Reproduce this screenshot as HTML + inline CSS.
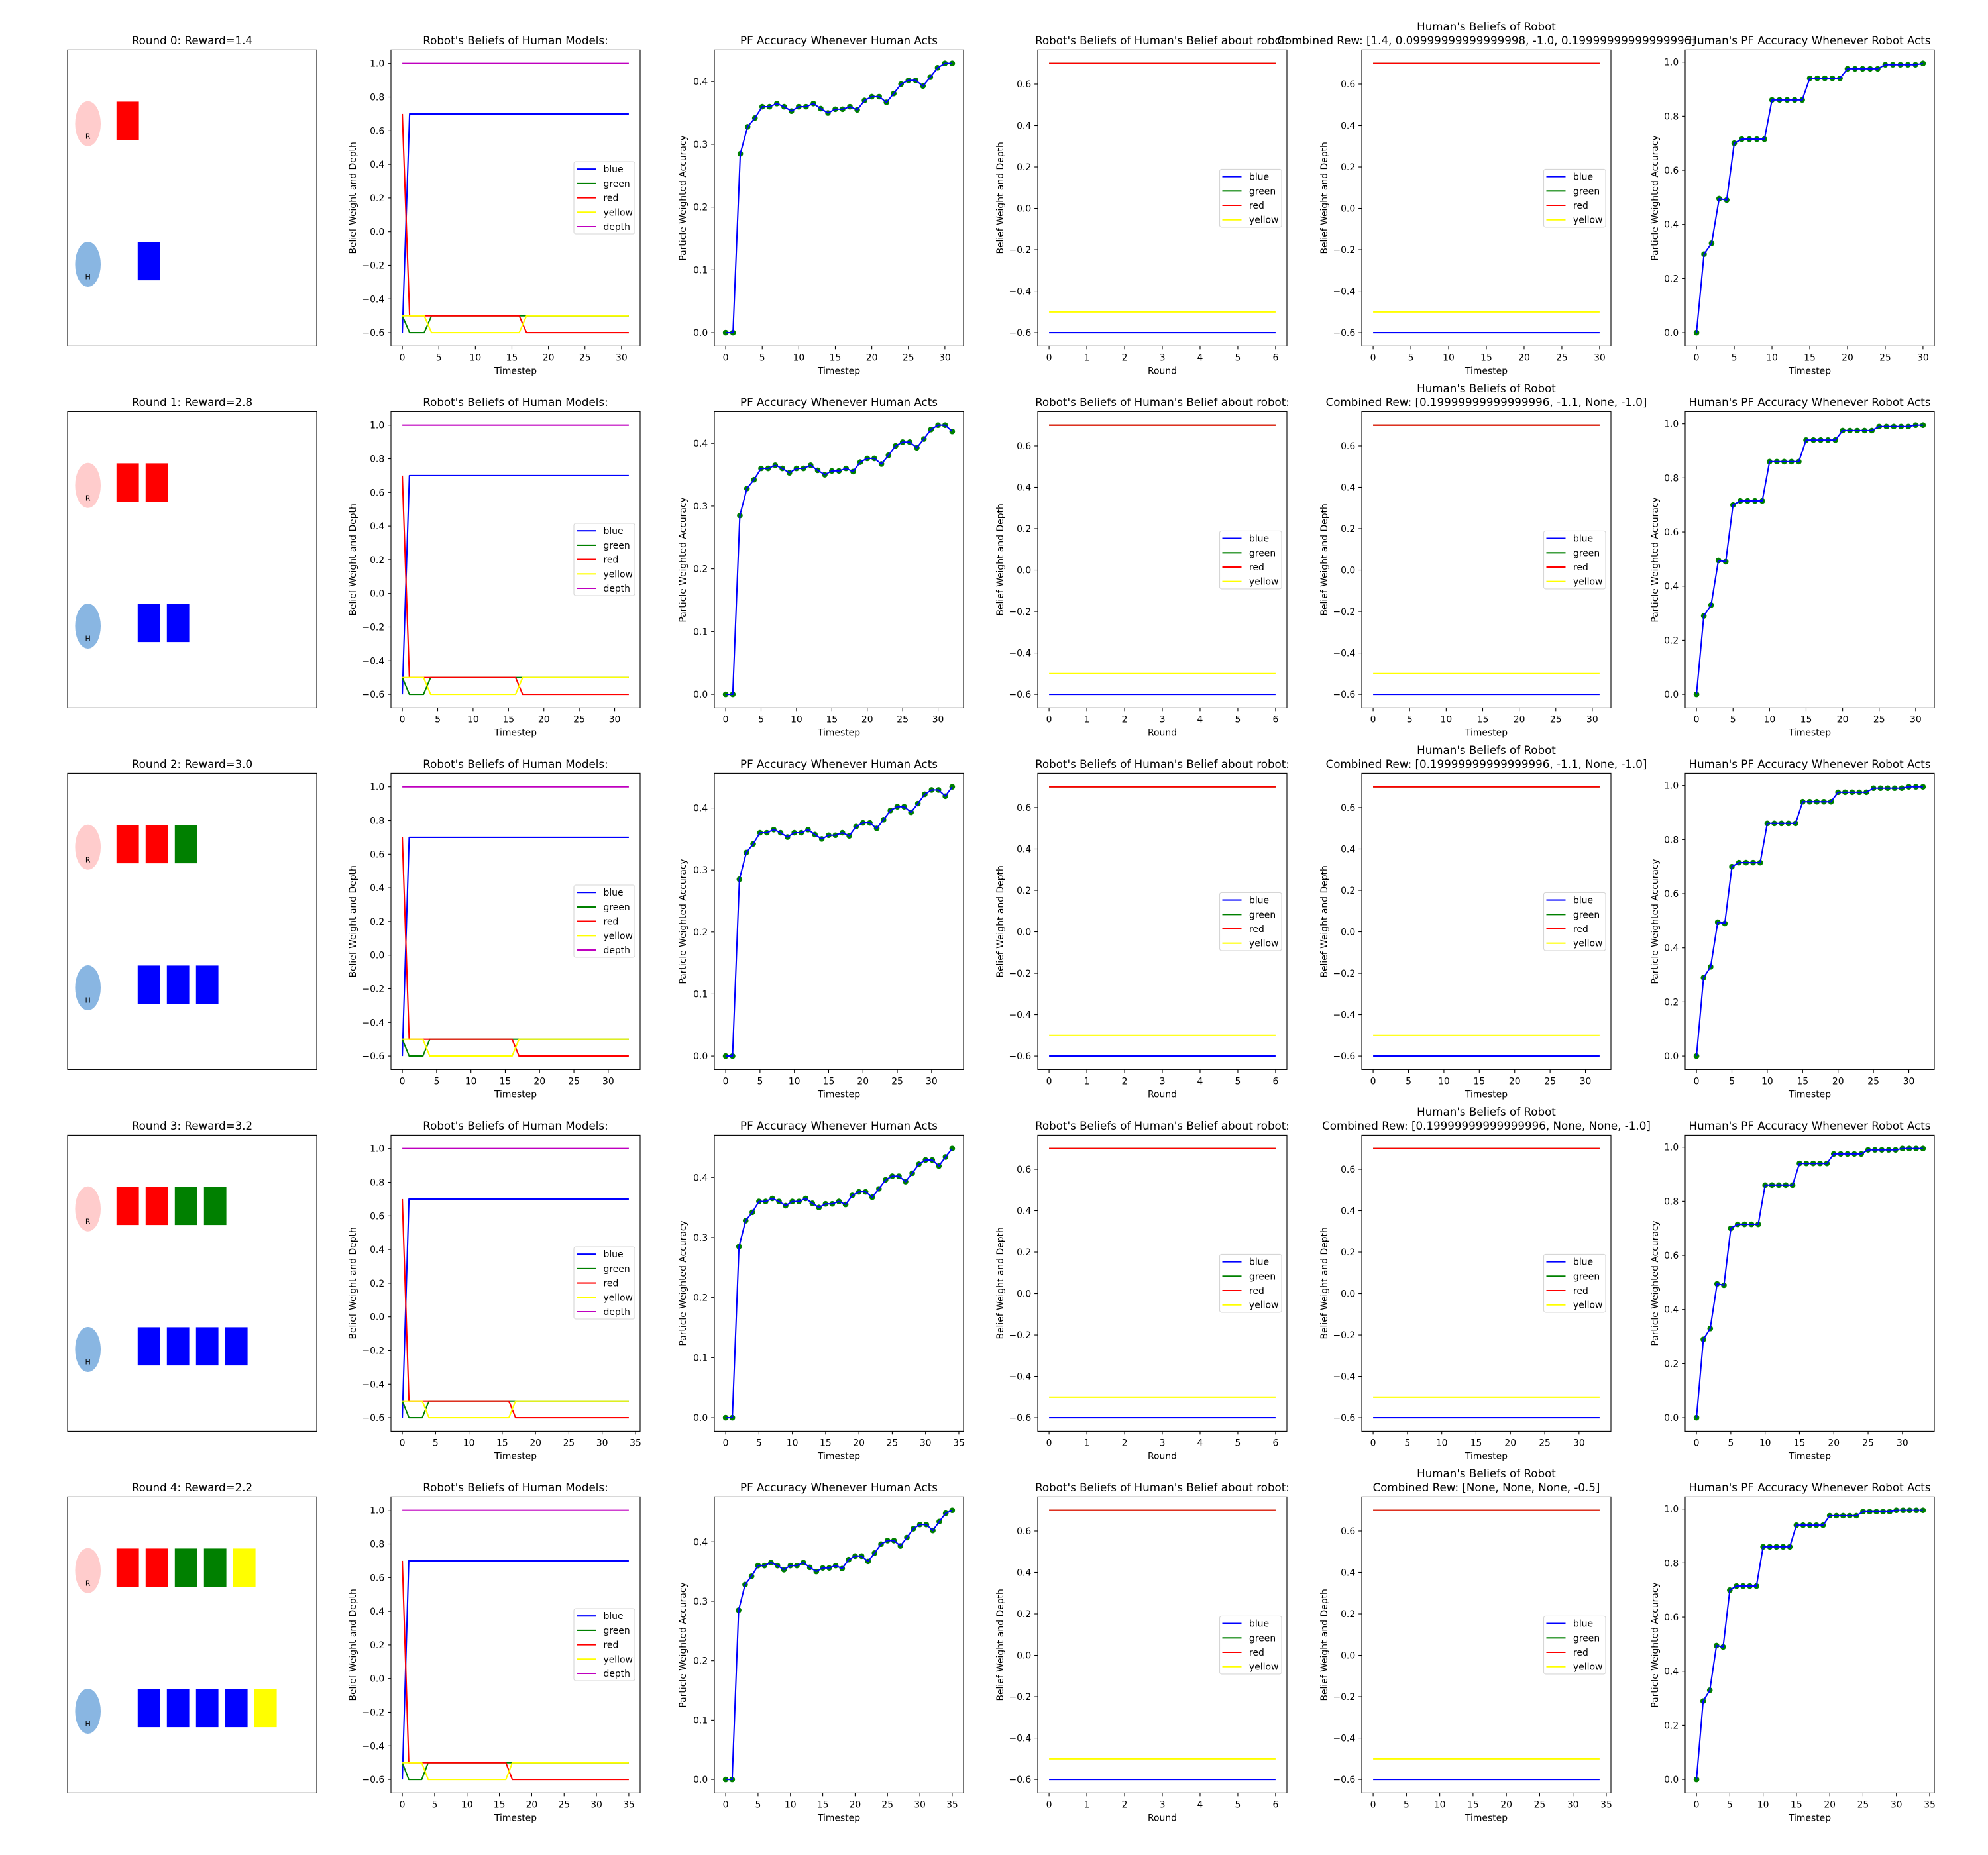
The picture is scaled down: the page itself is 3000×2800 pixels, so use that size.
<!DOCTYPE html>
<html><head><meta charset="utf-8"><style>
html,body{margin:0;padding:0;background:#fff;}
svg{display:block;font-family:"DejaVu Sans","Liberation Sans",sans-serif;}
</style></head>
<body>
<svg id="fig" xmlns="http://www.w3.org/2000/svg" width="3000" height="2800" viewBox="0 0 3000 2800">
<rect x="0" y="0" width="3000" height="2800" fill="#fff"/>
</svg>
<script>
// ---- data ----
const rewards=[1.4,2.8,3.0,3.2,2.2];
const robotBlocks=[["red"],["red","red"],["red","red","green"],["red","red","green","green"],["red","red","green","green","yellow"]];
const humanBlocks=[["blue"],["blue","blue"],["blue","blue","blue"],["blue","blue","blue","blue"],["blue","blue","blue","blue","yellow"]];
const combinedRew=["[1.4, 0.09999999999999998, -1.0, 0.19999999999999996]","[0.19999999999999996, -1.1, None, -1.0]","[0.19999999999999996, -1.1, None, -1.0]","[0.19999999999999996, None, None, -1.0]","[None, None, None, -0.5]"];
const humanActSteps=[32,33,34,35,36];
const robotActSteps=[31,32,33,34,35];
const beliefBlue=[-0.6,0.7,0.7,0.7,0.7,0.7,0.7,0.7,0.7,0.7,0.7,0.7,0.7,0.7,0.7,0.7,0.7,0.7,0.7,0.7,0.7,0.7,0.7,0.7,0.7,0.7,0.7,0.7,0.7,0.7,0.7,0.7,0.7,0.7,0.7,0.7];
const beliefGreen=[-0.5,-0.6,-0.6,-0.6,-0.5,-0.5,-0.5,-0.5,-0.5,-0.5,-0.5,-0.5,-0.5,-0.5,-0.5,-0.5,-0.5,-0.5,-0.5,-0.5,-0.5,-0.5,-0.5,-0.5,-0.5,-0.5,-0.5,-0.5,-0.5,-0.5,-0.5,-0.5,-0.5,-0.5,-0.5,-0.5];
const beliefRed=[0.7,-0.5,-0.5,-0.5,-0.5,-0.5,-0.5,-0.5,-0.5,-0.5,-0.5,-0.5,-0.5,-0.5,-0.5,-0.5,-0.5,-0.6,-0.6,-0.6,-0.6,-0.6,-0.6,-0.6,-0.6,-0.6,-0.6,-0.6,-0.6,-0.6,-0.6,-0.6,-0.6,-0.6,-0.6,-0.6];
const beliefYellow=[-0.5,-0.5,-0.5,-0.5,-0.6,-0.6,-0.6,-0.6,-0.6,-0.6,-0.6,-0.6,-0.6,-0.6,-0.6,-0.6,-0.6,-0.5,-0.5,-0.5,-0.5,-0.5,-0.5,-0.5,-0.5,-0.5,-0.5,-0.5,-0.5,-0.5,-0.5,-0.5,-0.5,-0.5,-0.5,-0.5];
const beliefDepth=[1,1,1,1,1,1,1,1,1,1,1,1,1,1,1,1,1,1,1,1,1,1,1,1,1,1,1,1,1,1,1,1,1,1,1,1];
const pfHuman=[0,0,0.285,0.328,0.342,0.36,0.36,0.365,0.36,0.353,0.36,0.36,0.365,0.357,0.35,0.356,0.356,0.36,0.355,0.37,0.376,0.376,0.367,0.381,0.396,0.402,0.402,0.393,0.407,0.422,0.429,0.429,0.419,0.434,0.448,0.453];
const pfRobot=[0,0.29,0.33,0.495,0.49,0.70,0.715,0.715,0.715,0.715,0.86,0.86,0.86,0.86,0.86,0.94,0.94,0.94,0.94,0.94,0.975,0.975,0.975,0.975,0.975,0.99,0.99,0.99,0.99,0.99,0.995,0.995,0.995,0.995,0.995];
const hbBlue=-0.6, hbGreen=0.7, hbRed=0.7, hbYellow=-0.5;
const roundsIdx=[0,1,2,3,4,5,6];
const beliefTicks=[-0.6,-0.4,-0.2,0.0,0.2,0.4,0.6,0.8,1.0];
const pfHumanTicks=[0.0,0.1,0.2,0.3,0.4];
const hbTicks=[-0.6,-0.4,-0.2,0.0,0.2,0.4,0.6];
const pfRobotTicks=[0.0,0.2,0.4,0.6,0.8,1.0];

// ---- layout ----
const NS="http://www.w3.org/2000/svg";
const svg=document.getElementById('fig');
const rowTop=[75.4,621.4,1167.4,1713.4,2259.4];
const colLeft=[102,590,1078,1566,2055,2543];
const AW=376, AH=447;
const COL={blue:"#0000ff",green:"#008000",red:"#ff0000",yellow:"#ffff00",depth:"#bf00bf"};

function mk(tag,attrs,parent){const e=document.createElementNS(NS,tag);for(const k in attrs)e.setAttribute(k,attrs[k]);(parent||svg).appendChild(e);return e;}
function fmt(v){let s=v.toFixed(1);if(v<0)s="\u2212"+s.slice(1);return s;}
function txt(x,y,s,size,anchor,parent,extra){const t=mk('text',Object.assign({x:x,y:y,'font-size':size,'text-anchor':anchor||'start',fill:'#000'},extra||{}),parent);t.textContent=s;return t;}

function axes(g,L,T,xmin,xmax,ymin,ymax){
  return {sx:v=>L+(v-xmin)/(xmax-xmin)*AW, sy:v=>T+AH-(v-ymin)/(ymax-ymin)*AH};
}
function frame(g,L,T){
  const r=mk('rect',{x:L,y:T,width:AW,height:AH,fill:'none',stroke:'#000','stroke-width':1.1},g);
  
  
}
function xticks(g,a,ticks,T){
  const grp=mk('g',{},g);
  
  
  ticks.forEach(v=>{const x=a.sx(v);mk('line',{x1:x,x2:x,y1:T+AH,y2:T+AH+4.9,stroke:'#000','stroke-width':1.1},grp);
    txt(x,T+AH+22,String(v),13.9,'middle',grp);});
}
function yticks(g,a,ticks,L){
  const grp=mk('g',{},g);
  
  
  ticks.forEach(v=>{const y=a.sy(v);mk('line',{x1:L-4.9,x2:L,y1:y,y2:y,stroke:'#000','stroke-width':1.1},grp);
    txt(L-9.8,y+5,fmt(v),13.9,'end',grp);});
}
function labels(g,L,T,xl,yl,yoff){
  const xt=txt(L+AW/2,T+AH+42,xl,13.9,'middle',g);
  
  
  const cx=L-yoff, cy=T+AH/2;
  const yt=txt(cx,cy+5,yl,13.9,'middle',g,{transform:`rotate(-90 ${cx} ${cy})`});
  
  
}
function title(g,L,T,lines){
  lines.forEach((s,i)=>{const t=txt(L+AW/2,T-8.5-(lines.length-1-i)*20.7,s,16.7,'middle',g);
    
    });
}
function series(g,a,xs,ys,color,name){
  const p=mk('polyline',{points:xs.map((x,i)=>a.sx(x)+','+a.sy(ys[i])).join(' '),fill:'none',stroke:color,'stroke-width':2.1,'stroke-linejoin':'round'},g);
  
  
}
function legend(g,L,T,relTop,items,w,h,name){
  const lg=mk('g',{},g);
  
  
  const lx=L+AW-8-w, ly=T+relTop;
  mk('rect',{x:lx,y:ly,width:w,height:h,rx:3,fill:'#fff','fill-opacity':0.8,stroke:'#d6d6d6','stroke-width':1.1},lg);
  items.forEach((it,i)=>{const y=ly+11.2+i*21.7;
    const ln=mk('line',{x1:lx+4,x2:lx+33,y1:y,y2:y,stroke:COL[it],'stroke-width':2.1},lg);
    
    
    txt(lx+44.5,y+5,it,13.9,'start',lg);});
}
function range(n){const r=[];for(let i=0;i<n;i++)r.push(i);return r;}
function stepTicks(maxv){const r=[];for(let v=0;v<=maxv+1e-9;v+=5)r.push(v);return r;}

for(let r=0;r<5;r++){
  const T=rowTop[r];
  // panel 1 scene
  {const L=colLeft[0];const g=mk('g',{},svg);
   
   
   title(g,L,T,[`Round ${r}: Reward=${rewards[r].toFixed(1)}`]);
   frame(g,L,T);
   const er=mk('ellipse',{cx:L+30.7,cy:T+111.3,rx:19.3,ry:34,fill:'#ffcccc'},g);
   
   
   txt(L+30.7,T+134.3,'R',11,'middle',g);
   const eh=mk('ellipse',{cx:L+30.7,cy:T+323.6,rx:19.3,ry:34,fill:'#89b6e2'},g);
   
   
   txt(L+30.7,T+346,'H',11,'middle',g);
   robotBlocks[r].forEach((c,i)=>{const b=mk('rect',{x:L+73.8+i*44,y:T+78,width:33.8,height:57.7,fill:COL[c]},g);
     
     });
   humanBlocks[r].forEach((c,i)=>{const b=mk('rect',{x:L+105.8+i*44,y:T+290,width:33.8,height:57.7,fill:COL[c]},g);
     
     });
  }
  // panel 2 robot beliefs
  {const L=colLeft[1];const g=mk('g',{},svg);
   
   
   const n=humanActSteps[r];const m=(n-1)*0.05;
   const a=axes(g,L,T,-m,n-1+m,-0.68,1.08);const xs=range(n);
   series(g,a,xs,beliefBlue.slice(0,n),COL.blue,'line-blue');
   series(g,a,xs,beliefGreen.slice(0,n),COL.green,'line-green');
   series(g,a,xs,beliefRed.slice(0,n),COL.red,'line-red');
   series(g,a,xs,beliefYellow.slice(0,n),COL.yellow,'line-yellow');
   series(g,a,xs,beliefDepth.slice(0,n),COL.depth,'line-depth');
   frame(g,L,T);xticks(g,a,stepTicks(n-1+m),T);yticks(g,a,beliefTicks,L);
   labels(g,L,T,'Timestep','Belief Weight and Depth',58);
   title(g,L,T,["Robot's Beliefs of Human Models:"]);
   legend(g,L,T,168.6,['blue','green','red','yellow','depth'],92,109,'legend');
  }
  // panel 3 PF accuracy human
  {const L=colLeft[2];const g=mk('g',{},svg);
   
   
   const n=humanActSteps[r];const m=(n-1)*0.05;const ys=pfHuman.slice(0,n);
   const mx=Math.max(...ys),mn=Math.min(...ys),ym=(mx-mn)*0.05;
   const a=axes(g,L,T,-m,n-1+m,mn-ym,mx+ym);const xs=range(n);
   xs.forEach((x,i)=>{const c=mk('circle',{cx:a.sx(x),cy:a.sy(ys[i]),r:4.3,fill:'#008000'},g);
     
     });
   series(g,a,xs,ys,COL.blue,'pf-line');
   frame(g,L,T);xticks(g,a,stepTicks(n-1+m),T);yticks(g,a,pfHumanTicks,L);
   labels(g,L,T,'Timestep','Particle Weighted Accuracy',48);
   title(g,L,T,['PF Accuracy Whenever Human Acts']);
  }
  // panel 4 robot's beliefs of human's belief
  {const L=colLeft[3];const g=mk('g',{},svg);
   
   
   const a=axes(g,L,T,-0.3,6.3,-0.665,0.765);const xs=roundsIdx;
   series(g,a,xs,xs.map(()=>hbBlue),COL.blue,'line-blue');
   series(g,a,xs,xs.map(()=>hbGreen),COL.green,'line-green');
   series(g,a,xs,xs.map(()=>hbRed),COL.red,'line-red');
   series(g,a,xs,xs.map(()=>hbYellow),COL.yellow,'line-yellow');
   frame(g,L,T);xticks(g,a,roundsIdx,T);yticks(g,a,hbTicks,L);
   labels(g,L,T,'Round','Belief Weight and Depth',57);
   title(g,L,T,["Robot's Beliefs of Human's Belief about robot:"]);
   legend(g,L,T,180,['blue','green','red','yellow'],93.5,87.5,'legend');
  }
  // panel 5 human's beliefs of robot
  {const L=colLeft[4];const g=mk('g',{},svg);
   
   
   const n=robotActSteps[r];const m=(n-1)*0.05;
   const a=axes(g,L,T,-m,n-1+m,-0.665,0.765);const xs=range(n);
   series(g,a,xs,xs.map(()=>hbBlue),COL.blue,'line-blue');
   series(g,a,xs,xs.map(()=>hbGreen),COL.green,'line-green');
   series(g,a,xs,xs.map(()=>hbRed),COL.red,'line-red');
   series(g,a,xs,xs.map(()=>hbYellow),COL.yellow,'line-yellow');
   frame(g,L,T);xticks(g,a,stepTicks(n-1+m),T);yticks(g,a,hbTicks,L);
   labels(g,L,T,'Timestep','Belief Weight and Depth',57);
   title(g,L,T,["Human's Beliefs of Robot","Combined Rew: "+combinedRew[r]]);
   legend(g,L,T,180,['blue','green','red','yellow'],93.5,87.5,'legend');
  }
  // panel 6 human PF accuracy
  {const L=colLeft[5];const g=mk('g',{},svg);
   
   
   const n=robotActSteps[r];const m=(n-1)*0.05;const ys=pfRobot.slice(0,n);
   const mx=Math.max(...ys),mn=Math.min(...ys),ym=(mx-mn)*0.05;
   const a=axes(g,L,T,-m,n-1+m,mn-ym,mx+ym);const xs=range(n);
   xs.forEach((x,i)=>{const c=mk('circle',{cx:a.sx(x),cy:a.sy(ys[i]),r:4.3,fill:'#008000'},g);
     
     });
   series(g,a,xs,ys,COL.blue,'pf-line');
   frame(g,L,T);xticks(g,a,stepTicks(n-1+m),T);yticks(g,a,pfRobotTicks,L);
   labels(g,L,T,'Timestep','Particle Weighted Accuracy',46);
   title(g,L,T,["Human's PF Accuracy Whenever Robot Acts"]);
  }
}
</script>
</body></html>
